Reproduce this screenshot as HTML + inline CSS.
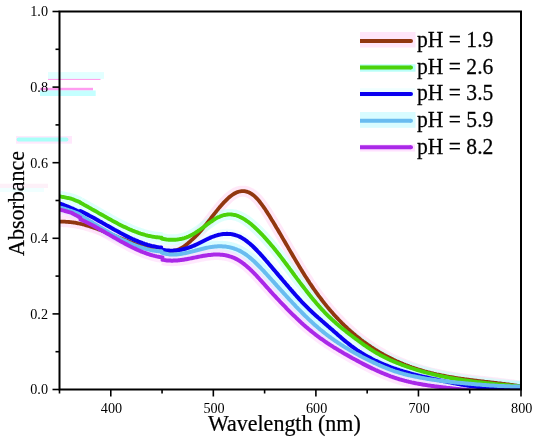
<!DOCTYPE html>
<html><head><meta charset="utf-8"><style>
html,body{margin:0;padding:0;background:#fff;}
svg{display:block;}
svg{will-change:transform;}
text{font-family:"Liberation Serif",serif;fill:#000;}
.lg{stroke:#000;stroke-width:0.25;}
.tt{stroke:#000;stroke-width:0.22;}
.tk{font-size:14.2px;}
.tt{font-size:22px;}
.lg{font-size:21.6px;}
</style></head><body>
<svg width="550" height="443" viewBox="0 0 550 443">

<rect x="48" y="72.1" width="56" height="6.8" fill="#e2ffff"/>
<rect x="48" y="78.9" width="52.5" height="1" fill="#ff98e8"/>
<rect x="40" y="87.8" width="53" height="2.7" fill="#ff9cf0"/>
<rect x="40" y="90.5" width="55.7" height="5.5" fill="#c4ffff"/>
<rect x="0" y="183.7" width="48" height="4.3" fill="#fdf0f8"/>
<rect x="0" y="188" width="44" height="4" fill="#f0ffff"/>
<rect x="16" y="136" width="56" height="7.7" fill="#ffe8fc"/>
<line x1="18.6" y1="139.5" x2="66.4" y2="139.5" stroke="#a8fff8" stroke-width="4" stroke-linecap="round"/>

<defs><clipPath id="pc"><rect x="59.5" y="0" width="461.5" height="389.5"/></clipPath></defs><g clip-path="url(#pc)">
<path d="M60.0,221.6 61.0,221.6 62.0,221.6 63.0,221.6 64.0,221.7 65.0,221.7 66.0,221.8 67.0,221.8 68.0,221.9 69.0,222.0 70.0,222.1 71.0,222.2 72.0,222.3 73.0,222.4 74.0,222.6 75.0,222.7 76.0,222.9 77.0,223.1 78.0,223.3 79.0,223.5 80.0,223.7 80.5,223.8 M80.5,223.8 81.5,224.0 82.5,224.3 83.5,224.5 84.5,224.8 85.5,225.1 86.5,225.4 87.5,225.7 88.5,226.0 89.5,226.3 90.5,226.6 91.5,226.9 92.5,227.3 93.5,227.6 94.5,227.9 95.5,228.3 96.5,228.6 97.5,229.0 98.5,229.4 99.5,229.7 100.5,230.1 101.5,230.5 102.5,230.9 103.5,231.3 104.5,231.7 105.5,232.1 106.5,232.5 107.5,232.9 108.5,233.3 109.5,233.7 110.5,234.1 111.5,234.5 112.5,234.9 113.5,235.3 114.5,235.7 115.5,236.1 116.5,236.6 117.5,237.0 118.5,237.4 119.5,237.8 120.5,238.2 121.5,238.6 122.5,239.0 123.5,239.4 124.5,239.8 125.5,240.2 126.5,240.6 127.5,241.0 128.5,241.4 129.5,241.8 130.5,242.2 131.5,242.6 132.5,242.9 133.5,243.3 134.5,243.7 135.5,244.0 136.5,244.4 137.5,244.8 138.5,245.1 139.5,245.4 140.5,245.8 141.5,246.1 142.5,246.4 143.5,246.7 144.5,247.0 145.5,247.3 146.5,247.6 147.5,247.9 148.5,248.2 149.5,248.4 150.5,248.7 151.5,248.9 152.5,249.1 153.5,249.4 154.5,249.6 155.5,249.8 156.5,249.9 157.5,250.1 158.5,250.3 159.5,250.4 160.5,250.6 161.5,250.7 162.5,250.8 163.5,250.9 164.5,251.0 165.5,251.0 166.5,251.0 167.5,251.1 168.5,251.1 169.5,251.0 170.5,251.0 171.5,250.9 172.5,250.8 173.5,250.7 174.5,250.5 175.5,250.3 176.5,250.1 177.5,249.8 178.5,249.4 179.5,249.0 180.5,248.5 181.5,248.0 182.5,247.4 183.5,246.7 184.5,246.0 185.5,245.3 186.5,244.5 187.5,243.7 188.5,242.8 189.5,242.0 190.5,241.1 191.5,240.2 192.5,239.3 193.5,238.4 194.5,237.4 195.5,236.5 196.5,235.5 197.5,234.4 198.5,233.4 199.5,232.3 200.5,231.1 201.5,230.0 202.5,228.8 203.5,227.6 204.5,226.4 205.5,225.1 206.5,223.9 207.5,222.6 208.5,221.3 209.5,220.1 210.5,218.8 211.5,217.5 212.5,216.2 213.5,214.9 214.5,213.6 215.5,212.4 216.5,211.1 217.5,209.9 218.5,208.6 219.5,207.4 220.5,206.3 221.5,205.1 222.5,204.0 223.5,202.9 224.5,201.8 225.5,200.8 226.5,199.8 227.5,198.8 228.5,197.9 229.5,197.0 230.5,196.2 231.5,195.5 232.5,194.8 233.5,194.1 234.5,193.5 235.5,193.0 236.5,192.5 237.5,192.1 238.5,191.8 239.5,191.5 240.5,191.3 241.5,191.2 242.5,191.2 243.5,191.2 244.5,191.2 245.5,191.4 246.5,191.6 247.5,191.9 248.5,192.3 249.5,192.8 250.5,193.3 251.5,193.9 252.5,194.6 253.5,195.3 254.5,196.2 255.5,197.1 256.5,198.1 257.5,199.1 258.5,200.3 259.5,201.5 260.5,202.8 261.5,204.1 262.5,205.5 263.5,206.9 264.5,208.3 265.5,209.8 266.5,211.4 267.5,212.9 268.5,214.5 269.5,216.1 270.5,217.7 271.5,219.4 272.5,221.0 273.5,222.6 274.5,224.3 275.5,226.0 276.5,227.7 277.5,229.3 278.5,231.0 279.5,232.7 280.5,234.4 281.5,236.1 282.5,237.9 283.5,239.6 284.5,241.3 285.5,243.0 286.5,244.7 287.5,246.4 288.5,248.2 289.5,249.9 290.5,251.6 291.5,253.3 292.5,255.0 293.5,256.7 294.5,258.4 295.5,260.1 296.5,261.8 297.5,263.4 298.5,265.1 299.5,266.8 300.5,268.4 301.5,270.1 302.5,271.7 303.5,273.3 304.5,274.9 305.5,276.5 306.5,278.0 307.5,279.6 308.5,281.1 309.5,282.7 310.5,284.2 311.5,285.6 312.5,287.1 313.5,288.6 314.5,290.0 315.5,291.4 316.5,292.8 317.5,294.2 318.5,295.6 319.5,296.9 320.5,298.2 321.5,299.5 322.5,300.8 323.5,302.1 324.5,303.4 325.5,304.6 326.5,305.9 327.5,307.1 328.5,308.3 329.5,309.5 330.5,310.6 331.5,311.8 332.5,312.9 333.5,314.1 334.5,315.2 335.5,316.3 336.5,317.4 337.5,318.4 338.5,319.5 339.5,320.5 340.5,321.5 341.5,322.6 342.5,323.6 343.5,324.5 344.5,325.5 345.5,326.5 346.5,327.4 347.5,328.4 348.5,329.3 349.5,330.2 350.5,331.1 351.5,332.0 352.5,332.8 353.5,333.7 354.5,334.5 355.5,335.4 356.5,336.2 357.5,337.0 358.5,337.8 359.5,338.6 360.5,339.4 361.5,340.2 362.5,340.9 363.5,341.7 364.5,342.4 365.5,343.1 366.5,343.8 367.5,344.6 368.5,345.2 369.5,345.9 370.5,346.6 371.5,347.3 372.5,347.9 373.5,348.6 374.5,349.2 375.5,349.9 376.5,350.5 377.5,351.1 378.5,351.7 379.5,352.3 380.5,352.9 381.5,353.5 382.5,354.0 383.5,354.6 384.5,355.1 385.5,355.7 386.5,356.2 387.5,356.8 388.5,357.3 389.5,357.8 390.5,358.3 391.5,358.8 392.5,359.3 393.5,359.8 394.5,360.2 395.5,360.7 396.5,361.2 397.5,361.6 398.5,362.0 399.5,362.5 400.5,362.9 401.5,363.3 402.5,363.7 403.5,364.2 404.5,364.6 405.5,365.0 406.5,365.3 407.5,365.7 408.5,366.1 409.5,366.5 410.5,366.8 411.5,367.2 412.5,367.5 413.5,367.9 414.5,368.2 415.5,368.5 416.5,368.9 417.5,369.2 418.5,369.5 419.5,369.8 420.5,370.1 421.5,370.4 422.5,370.7 423.5,371.0 424.5,371.3 425.5,371.5 426.5,371.8 427.5,372.1 428.5,372.3 429.5,372.6 430.5,372.9 431.5,373.1 432.5,373.3 433.5,373.6 434.5,373.8 435.5,374.0 436.5,374.3 437.5,374.5 438.5,374.7 439.5,374.9 440.5,375.1 441.5,375.3 442.5,375.5 443.5,375.7 444.5,375.9 445.5,376.1 446.5,376.3 447.5,376.5 448.5,376.7 449.5,376.8 450.5,377.0 451.5,377.2 452.5,377.4 453.5,377.5 454.5,377.7 455.5,377.8 456.5,378.0 457.5,378.2 458.5,378.3 459.5,378.5 460.5,378.6 461.5,378.8 462.5,378.9 463.5,379.0 464.5,379.2 465.5,379.3 466.5,379.4 467.5,379.6 468.5,379.7 469.5,379.8 470.5,380.0 471.5,380.1 472.5,380.2 473.5,380.3 474.5,380.5 475.5,380.6 476.5,380.7 477.5,380.8 478.5,381.0 479.5,381.1 480.5,381.2 481.5,381.3 482.5,381.4 483.5,381.5 484.5,381.7 485.5,381.8 486.5,381.9 487.5,382.0 488.5,382.1 489.5,382.2 490.5,382.3 491.5,382.5 492.5,382.6 493.5,382.7 494.5,382.8 495.5,382.9 496.5,383.0 497.5,383.2 498.5,383.3 499.5,383.4 500.5,383.5 501.5,383.6 502.5,383.8 503.5,383.9 504.5,384.0 505.5,384.1 506.5,384.3 507.5,384.4 508.5,384.5 509.5,384.6 510.5,384.8 511.5,384.9 512.5,385.0 513.5,385.2 514.5,385.3 515.5,385.5 516.5,385.6 517.5,385.8 518.5,385.9 519.5,386.1 520.0,386.1" fill="none" stroke="#ffd8f4" stroke-width="11" stroke-opacity="0.6" stroke-linejoin="round" stroke-linecap="butt"/>
<path d="M60.0,196.4 61.0,196.6 62.0,196.8 63.0,197.0 64.0,197.2 65.0,197.4 66.0,197.6 67.0,197.8 68.0,198.0 69.0,198.2 70.0,198.4 71.0,198.7 72.0,199.0 73.0,199.3 74.0,199.7 75.0,200.2 76.0,200.6 77.0,201.0 78.0,201.4 79.0,201.8 80.0,202.3 80.3,202.4 M80.3,202.7 81.3,203.2 82.3,203.8 83.3,204.3 84.3,204.9 85.3,205.4 86.3,206.0 87.3,206.5 88.3,207.1 89.3,207.7 90.3,208.2 91.3,208.8 92.3,209.4 93.3,209.9 94.3,210.5 95.3,211.1 96.3,211.6 97.3,212.2 98.3,212.8 99.3,213.4 100.3,213.9 101.3,214.5 102.3,215.1 103.3,215.6 104.3,216.2 105.3,216.8 106.3,217.3 107.3,217.9 108.3,218.5 109.3,219.0 110.3,219.6 111.3,220.1 112.3,220.7 113.3,221.2 114.3,221.8 115.3,222.3 116.3,222.8 117.3,223.3 118.3,223.9 119.3,224.4 120.3,224.9 121.3,225.4 122.3,225.9 123.3,226.4 124.3,226.9 125.3,227.3 126.3,227.8 127.3,228.3 128.3,228.7 129.3,229.2 130.3,229.6 131.3,230.0 132.3,230.5 133.3,230.9 134.3,231.3 135.3,231.7 136.3,232.0 137.3,232.4 138.3,232.8 139.3,233.1 140.3,233.5 141.3,233.8 142.3,234.1 143.3,234.4 144.3,234.7 145.3,235.0 146.3,235.3 147.3,235.5 148.3,235.8 149.3,236.0 150.3,236.2 151.3,236.4 152.3,236.6 153.3,236.8 154.3,236.9 155.3,237.1 156.3,237.2 157.3,237.3 158.3,237.4 159.3,237.5 160.3,237.6 161.3,237.6 161.6,237.7 M161.6,238.6 162.6,238.8 163.6,239.0 164.6,239.2 165.6,239.3 166.6,239.5 167.6,239.6 168.6,239.7 169.6,239.7 170.6,239.8 171.6,239.8 172.6,239.8 173.6,239.8 174.6,239.8 175.6,239.7 176.6,239.6 177.6,239.5 178.6,239.4 179.6,239.2 180.6,239.0 181.6,238.8 182.6,238.5 183.6,238.3 184.6,238.0 185.6,237.6 186.6,237.3 187.6,236.9 188.6,236.5 189.6,236.0 190.6,235.5 191.6,235.0 192.6,234.5 193.6,233.9 194.6,233.3 195.6,232.7 196.6,232.0 197.6,231.4 198.6,230.7 199.6,230.0 200.6,229.3 201.6,228.5 202.6,227.8 203.6,227.1 204.6,226.3 205.6,225.6 206.6,224.9 207.6,224.1 208.6,223.4 209.6,222.7 210.6,222.0 211.6,221.3 212.6,220.6 213.6,219.9 214.6,219.3 215.6,218.7 216.6,218.1 217.6,217.6 218.6,217.1 219.6,216.7 220.6,216.2 221.6,215.9 222.6,215.5 223.6,215.2 224.6,215.0 225.6,214.8 226.6,214.6 227.6,214.5 228.6,214.4 229.6,214.4 230.6,214.4 231.6,214.5 232.6,214.6 233.6,214.8 234.6,215.0 235.6,215.2 236.6,215.5 237.6,215.9 238.6,216.3 239.6,216.7 240.6,217.2 241.6,217.7 242.6,218.2 243.6,218.8 244.6,219.4 245.6,220.1 246.6,220.8 247.6,221.5 248.6,222.2 249.6,223.0 250.6,223.8 251.6,224.6 252.6,225.5 253.6,226.4 254.6,227.3 255.6,228.2 256.6,229.1 257.6,230.1 258.6,231.1 259.6,232.1 260.6,233.1 261.6,234.2 262.6,235.2 263.6,236.3 264.6,237.4 265.6,238.5 266.6,239.6 267.6,240.7 268.6,241.9 269.6,243.0 270.6,244.2 271.6,245.4 272.6,246.6 273.6,247.8 274.6,249.0 275.6,250.3 276.6,251.5 277.6,252.8 278.6,254.0 279.6,255.3 280.6,256.6 281.6,257.9 282.6,259.2 283.6,260.5 284.6,261.9 285.6,263.2 286.6,264.5 287.6,265.9 288.6,267.2 289.6,268.6 290.6,269.9 291.6,271.3 292.6,272.6 293.6,274.0 294.6,275.4 295.6,276.7 296.6,278.1 297.6,279.4 298.6,280.7 299.6,282.1 300.6,283.4 301.6,284.7 302.6,286.0 303.6,287.3 304.6,288.6 305.6,289.9 306.6,291.2 307.6,292.5 308.6,293.7 309.6,295.0 310.6,296.2 311.6,297.5 312.6,298.7 313.6,299.9 314.6,301.1 315.6,302.3 316.6,303.5 317.6,304.6 318.6,305.8 319.6,306.9 320.6,308.0 321.6,309.1 322.6,310.2 323.6,311.2 324.6,312.3 325.6,313.3 326.6,314.3 327.6,315.3 328.6,316.3 329.6,317.3 330.6,318.2 331.6,319.2 332.6,320.1 333.6,321.0 334.6,321.9 335.6,322.8 336.6,323.7 337.6,324.5 338.6,325.4 339.6,326.2 340.6,327.1 341.6,327.9 342.6,328.7 343.6,329.5 344.6,330.3 345.6,331.1 346.6,331.9 347.6,332.7 348.6,333.4 349.6,334.2 350.6,335.0 351.6,335.7 352.6,336.5 353.6,337.3 354.6,338.0 355.6,338.8 356.6,339.5 357.6,340.2 358.6,341.0 359.6,341.7 360.6,342.4 361.6,343.1 362.6,343.9 363.6,344.6 364.6,345.3 365.6,345.9 366.6,346.6 367.6,347.3 368.6,348.0 369.6,348.6 370.6,349.3 371.6,349.9 372.6,350.6 373.6,351.2 374.6,351.8 375.6,352.4 376.6,353.0 377.6,353.6 378.6,354.1 379.6,354.7 380.6,355.3 381.6,355.8 382.6,356.3 383.6,356.8 384.6,357.3 385.6,357.8 386.6,358.3 387.6,358.8 388.6,359.3 389.6,359.7 390.6,360.2 391.6,360.6 392.6,361.1 393.6,361.5 394.6,361.9 395.6,362.3 396.6,362.8 397.6,363.2 398.6,363.5 399.6,363.9 400.6,364.3 401.6,364.7 402.6,365.1 403.6,365.4 404.6,365.8 405.6,366.2 406.6,366.5 407.6,366.9 408.6,367.2 409.6,367.5 410.6,367.9 411.6,368.2 412.6,368.5 413.6,368.8 414.6,369.2 415.6,369.5 416.6,369.8 417.6,370.1 418.6,370.4 419.6,370.7 420.6,371.0 421.6,371.3 422.6,371.5 423.6,371.8 424.6,372.1 425.6,372.4 426.6,372.6 427.6,372.9 428.6,373.1 429.6,373.4 430.6,373.7 431.6,373.9 432.6,374.1 433.6,374.4 434.6,374.6 435.6,374.9 436.6,375.1 437.6,375.3 438.6,375.5 439.6,375.8 440.6,376.0 441.6,376.2 442.6,376.4 443.6,376.6 444.6,376.8 445.6,377.0 446.6,377.2 447.6,377.4 448.6,377.6 449.6,377.8 450.6,378.0 451.6,378.2 452.6,378.3 453.6,378.5 454.6,378.7 455.6,378.9 456.6,379.0 457.6,379.2 458.6,379.4 459.6,379.5 460.6,379.7 461.6,379.8 462.6,380.0 463.6,380.1 464.6,380.3 465.6,380.4 466.6,380.6 467.6,380.7 468.6,380.9 469.6,381.0 470.6,381.2 471.6,381.3 472.6,381.4 473.6,381.6 474.6,381.7 475.6,381.8 476.6,381.9 477.6,382.1 478.6,382.2 479.6,382.3 480.6,382.4 481.6,382.5 482.6,382.7 483.6,382.8 484.6,382.9 485.6,383.0 486.6,383.1 487.6,383.2 488.6,383.3 489.6,383.4 490.6,383.5 491.6,383.7 492.6,383.8 493.6,383.9 494.6,384.0 495.6,384.1 496.6,384.2 497.6,384.3 498.6,384.4 499.6,384.5 500.6,384.6 501.6,384.7 502.6,384.7 503.6,384.8 504.6,384.9 505.6,385.0 506.6,385.1 507.6,385.2 508.6,385.3 509.6,385.4 510.6,385.5 511.6,385.6 512.6,385.7 513.6,385.8 514.6,385.9 515.6,386.0 516.6,386.0 517.6,386.1 518.6,386.2 519.6,386.3 520.0,386.3" fill="none" stroke="#c8fff8" stroke-width="11" stroke-opacity="0.6" stroke-linejoin="round" stroke-linecap="butt"/>
<path d="M60.0,203.6 61.0,204.0 62.0,204.3 63.0,204.7 64.0,205.1 65.0,205.5 66.0,205.9 67.0,206.3 68.0,206.7 69.0,207.1 70.0,207.5 71.0,208.0 72.0,208.4 73.0,208.9 74.0,209.4 75.0,209.8 76.0,210.3 77.0,210.8 78.0,211.2 79.0,211.7 79.7,212.0 M80.5,211.1 81.5,211.5 82.5,212.0 83.5,212.5 84.5,213.0 85.5,213.6 86.5,214.1 87.5,214.6 88.5,215.1 89.5,215.7 90.5,216.2 91.5,216.7 92.5,217.3 93.5,217.8 94.5,218.4 95.5,218.9 96.5,219.5 97.5,220.1 98.5,220.6 99.5,221.2 100.5,221.7 101.5,222.3 102.5,222.9 103.5,223.5 104.5,224.0 105.5,224.6 106.5,225.2 107.5,225.7 108.5,226.3 109.5,226.9 110.5,227.4 111.5,228.0 112.5,228.6 113.5,229.1 114.5,229.7 115.5,230.2 116.5,230.8 117.5,231.3 118.5,231.9 119.5,232.4 120.5,233.0 121.5,233.5 122.5,234.0 123.5,234.5 124.5,235.1 125.5,235.6 126.5,236.1 127.5,236.6 128.5,237.1 129.5,237.6 130.5,238.0 131.5,238.5 132.5,239.0 133.5,239.4 134.5,239.9 135.5,240.3 136.5,240.7 137.5,241.1 138.5,241.6 139.5,242.0 140.5,242.3 141.5,242.7 142.5,243.1 143.5,243.4 144.5,243.8 145.5,244.1 146.5,244.4 147.5,244.8 148.5,245.1 149.5,245.3 150.5,245.6 151.5,245.9 152.5,246.1 153.5,246.3 154.5,246.5 155.5,246.7 156.5,246.9 157.5,247.1 158.5,247.3 159.5,247.4 160.5,247.5 161.2,247.6 M162.0,249.7 163.0,249.9 164.0,250.1 165.0,250.2 166.0,250.4 167.0,250.5 168.0,250.6 169.0,250.6 170.0,250.7 171.0,250.7 172.0,250.7 173.0,250.7 174.0,250.6 175.0,250.5 176.0,250.5 177.0,250.4 178.0,250.2 179.0,250.1 180.0,249.9 181.0,249.7 182.0,249.5 183.0,249.3 184.0,249.0 185.0,248.8 186.0,248.5 187.0,248.2 188.0,247.9 189.0,247.5 190.0,247.2 191.0,246.8 192.0,246.4 193.0,246.0 194.0,245.6 195.0,245.1 196.0,244.7 197.0,244.2 198.0,243.7 199.0,243.2 200.0,242.7 201.0,242.2 202.0,241.7 203.0,241.2 204.0,240.7 205.0,240.2 206.0,239.7 207.0,239.2 208.0,238.8 209.0,238.3 210.0,237.9 211.0,237.4 212.0,237.0 213.0,236.6 214.0,236.3 215.0,235.9 216.0,235.6 217.0,235.3 218.0,235.0 219.0,234.8 220.0,234.6 221.0,234.4 222.0,234.2 223.0,234.1 224.0,234.0 225.0,233.9 226.0,233.9 227.0,233.8 228.0,233.9 229.0,233.9 230.0,234.0 231.0,234.1 232.0,234.3 233.0,234.5 234.0,234.7 235.0,235.0 236.0,235.3 237.0,235.6 238.0,236.0 239.0,236.4 240.0,236.9 241.0,237.4 242.0,238.0 243.0,238.6 244.0,239.2 245.0,239.9 246.0,240.6 247.0,241.4 248.0,242.2 249.0,243.0 250.0,243.8 251.0,244.7 252.0,245.6 253.0,246.5 254.0,247.5 255.0,248.5 256.0,249.5 257.0,250.5 258.0,251.6 259.0,252.6 260.0,253.7 261.0,254.8 262.0,255.9 263.0,257.0 264.0,258.2 265.0,259.3 266.0,260.5 267.0,261.6 268.0,262.8 269.0,264.0 270.0,265.2 271.0,266.3 272.0,267.5 273.0,268.7 274.0,269.9 275.0,271.0 276.0,272.2 277.0,273.4 278.0,274.6 279.0,275.8 280.0,276.9 281.0,278.1 282.0,279.3 283.0,280.5 284.0,281.6 285.0,282.8 286.0,284.0 287.0,285.1 288.0,286.3 289.0,287.5 290.0,288.6 291.0,289.8 292.0,290.9 293.0,292.1 294.0,293.2 295.0,294.4 296.0,295.5 297.0,296.6 298.0,297.7 299.0,298.8 300.0,299.9 301.0,301.0 302.0,302.1 303.0,303.1 304.0,304.2 305.0,305.2 306.0,306.2 307.0,307.2 308.0,308.2 309.0,309.2 310.0,310.1 311.0,311.1 312.0,312.0 313.0,312.9 314.0,313.8 315.0,314.8 316.0,315.7 317.0,316.6 318.0,317.5 319.0,318.3 320.0,319.2 321.0,320.1 322.0,321.0 323.0,321.8 324.0,322.7 325.0,323.6 326.0,324.4 327.0,325.3 328.0,326.2 329.0,327.0 330.0,327.9 331.0,328.8 332.0,329.6 333.0,330.5 334.0,331.4 335.0,332.3 336.0,333.1 337.0,334.0 338.0,334.9 339.0,335.8 340.0,336.6 341.0,337.5 342.0,338.4 343.0,339.2 344.0,340.1 345.0,340.9 346.0,341.7 347.0,342.5 348.0,343.3 349.0,344.1 350.0,344.9 351.0,345.7 352.0,346.5 353.0,347.2 354.0,347.9 355.0,348.7 356.0,349.4 357.0,350.1 358.0,350.7 359.0,351.4 360.0,352.0 361.0,352.7 362.0,353.3 363.0,353.9 364.0,354.5 365.0,355.1 366.0,355.7 367.0,356.3 368.0,356.8 369.0,357.4 370.0,357.9 371.0,358.4 372.0,359.0 373.0,359.5 374.0,360.0 375.0,360.5 376.0,360.9 377.0,361.4 378.0,361.9 379.0,362.3 380.0,362.8 381.0,363.2 382.0,363.7 383.0,364.1 384.0,364.5 385.0,364.9 386.0,365.3 387.0,365.7 388.0,366.1 389.0,366.5 390.0,366.9 391.0,367.3 392.0,367.6 393.0,368.0 394.0,368.4 395.0,368.7 396.0,369.0 397.0,369.4 398.0,369.7 399.0,370.0 400.0,370.4 401.0,370.7 402.0,371.0 403.0,371.3 404.0,371.6 405.0,371.9 406.0,372.2 407.0,372.5 408.0,372.8 409.0,373.0 410.0,373.3 411.0,373.6 412.0,373.9 413.0,374.1 414.0,374.4 415.0,374.6 416.0,374.9 417.0,375.1 418.0,375.4 419.0,375.6 420.0,375.9 421.0,376.1 422.0,376.4 423.0,376.6 424.0,376.8 425.0,377.1 426.0,377.3 427.0,377.5 428.0,377.7 429.0,378.0 430.0,378.2 431.0,378.4 432.0,378.6 433.0,378.8 434.0,379.1 435.0,379.3 436.0,379.5 437.0,379.7 438.0,379.9 439.0,380.1 440.0,380.3 441.0,380.6 442.0,380.8 443.0,381.0 444.0,381.2 445.0,381.4 446.0,381.6 447.0,381.8 448.0,382.0 449.0,382.2 450.0,382.4 451.0,382.6 452.0,382.8 453.0,383.0 454.0,383.2 455.0,383.4 456.0,383.6 457.0,383.8 458.0,383.9 459.0,384.1 460.0,384.3 461.0,384.5 462.0,384.7 463.0,384.8 464.0,385.0 465.0,385.2 466.0,385.3 467.0,385.5 468.0,385.7 469.0,385.8 470.0,386.0 471.0,386.1 472.0,386.3 473.0,386.4 474.0,386.6 475.0,386.7 476.0,386.8 477.0,387.0 478.0,387.1 479.0,387.2 480.0,387.4 481.0,387.5 482.0,387.6 483.0,387.7 484.0,387.8 485.0,387.9 486.0,388.0 487.0,388.1 488.0,388.2 489.0,388.3 490.0,388.4 491.0,388.5 492.0,388.6 493.0,388.7 494.0,388.7 495.0,388.8 496.0,388.9 497.0,388.9 498.0,389.0 499.0,389.0 500.0,389.1 501.0,389.1 502.0,389.2 503.0,389.2 504.0,389.2 505.0,389.2 506.0,389.3 507.0,389.3 508.0,389.3 509.0,389.3 510.0,389.3 511.0,389.3 512.0,389.3 513.0,389.2 514.0,389.2 515.0,389.2 516.0,389.2 517.0,389.1 518.0,389.1 519.0,389.0 520.0,389.0" fill="none" stroke="#e8fcff" stroke-width="10" stroke-opacity="0.6" stroke-linejoin="round" stroke-linecap="butt"/>
<path d="M60.0,207.6 61.0,207.9 62.0,208.1 63.0,208.4 64.0,208.7 65.0,209.0 66.0,209.3 67.0,209.6 68.0,209.9 69.0,210.3 70.0,210.6 71.0,210.9 72.0,211.3 73.0,211.7 74.0,212.0 75.0,212.4 76.0,212.8 77.0,213.2 78.0,213.6 79.0,214.1 80.0,214.5 M80.0,215.1 81.0,215.7 82.0,216.3 83.0,216.9 84.0,217.5 85.0,218.1 86.0,218.7 87.0,219.3 88.0,219.9 89.0,220.5 90.0,221.1 91.0,221.7 92.0,222.3 93.0,223.0 94.0,223.6 95.0,224.2 96.0,224.8 97.0,225.4 98.0,226.0 99.0,226.6 100.0,227.2 101.0,227.8 102.0,228.4 103.0,229.0 104.0,229.6 105.0,230.1 106.0,230.7 107.0,231.3 108.0,231.9 109.0,232.5 110.0,233.0 111.0,233.6 112.0,234.2 113.0,234.7 114.0,235.3 115.0,235.8 116.0,236.4 117.0,236.9 118.0,237.4 119.0,237.9 120.0,238.5 121.0,239.0 122.0,239.5 123.0,240.0 124.0,240.4 125.0,240.9 126.0,241.4 127.0,241.9 128.0,242.3 129.0,242.8 130.0,243.2 131.0,243.6 132.0,244.1 133.0,244.5 134.0,244.9 135.0,245.3 136.0,245.7 137.0,246.0 138.0,246.4 139.0,246.7 140.0,247.1 141.0,247.4 142.0,247.7 143.0,248.0 144.0,248.3 145.0,248.6 146.0,248.9 147.0,249.2 148.0,249.4 149.0,249.6 150.0,249.9 151.0,250.1 152.0,250.3 153.0,250.4 154.0,250.6 155.0,250.7 156.0,250.9 157.0,251.0 158.0,251.1 159.0,251.2 160.0,251.3 161.0,251.3 161.6,251.4 M161.8,252.7 162.8,253.0 163.8,253.3 164.8,253.5 165.8,253.8 166.8,254.0 167.8,254.1 168.8,254.3 169.8,254.4 170.8,254.4 171.8,254.5 172.8,254.5 173.8,254.5 174.8,254.5 175.8,254.4 176.8,254.4 177.8,254.3 178.8,254.2 179.8,254.1 180.8,253.9 181.8,253.8 182.8,253.6 183.8,253.4 184.8,253.2 185.8,253.0 186.8,252.8 187.8,252.6 188.8,252.3 189.8,252.1 190.8,251.8 191.8,251.6 192.8,251.3 193.8,251.1 194.8,250.8 195.8,250.5 196.8,250.3 197.8,250.0 198.8,249.7 199.8,249.5 200.8,249.2 201.8,249.0 202.8,248.7 203.8,248.5 204.8,248.2 205.8,248.0 206.8,247.8 207.8,247.6 208.8,247.4 209.8,247.2 210.8,247.1 211.8,246.9 212.8,246.8 213.8,246.7 214.8,246.6 215.8,246.5 216.8,246.4 217.8,246.3 218.8,246.3 219.8,246.3 220.8,246.3 221.8,246.3 222.8,246.4 223.8,246.4 224.8,246.5 225.8,246.6 226.8,246.8 227.8,246.9 228.8,247.1 229.8,247.3 230.8,247.6 231.8,247.8 232.8,248.1 233.8,248.4 234.8,248.8 235.8,249.1 236.8,249.5 237.8,250.0 238.8,250.4 239.8,250.9 240.8,251.4 241.8,252.0 242.8,252.6 243.8,253.2 244.8,253.8 245.8,254.5 246.8,255.2 247.8,256.0 248.8,256.8 249.8,257.6 250.8,258.4 251.8,259.3 252.8,260.2 253.8,261.1 254.8,262.0 255.8,263.0 256.8,264.0 257.8,265.0 258.8,266.0 259.8,267.0 260.8,268.0 261.8,269.1 262.8,270.1 263.8,271.2 264.8,272.3 265.8,273.4 266.8,274.5 267.8,275.6 268.8,276.7 269.8,277.8 270.8,278.9 271.8,280.0 272.8,281.1 273.8,282.2 274.8,283.3 275.8,284.4 276.8,285.6 277.8,286.7 278.8,287.8 279.8,288.9 280.8,290.0 281.8,291.1 282.8,292.2 283.8,293.3 284.8,294.4 285.8,295.5 286.8,296.6 287.8,297.7 288.8,298.8 289.8,299.9 290.8,300.9 291.8,302.0 292.8,303.1 293.8,304.1 294.8,305.2 295.8,306.3 296.8,307.3 297.8,308.4 298.8,309.4 299.8,310.4 300.8,311.4 301.8,312.5 302.8,313.5 303.8,314.5 304.8,315.5 305.8,316.4 306.8,317.4 307.8,318.4 308.8,319.3 309.8,320.3 310.8,321.2 311.8,322.1 312.8,323.1 313.8,324.0 314.8,324.9 315.8,325.7 316.8,326.6 317.8,327.5 318.8,328.3 319.8,329.2 320.8,330.0 321.8,330.8 322.8,331.6 323.8,332.4 324.8,333.2 325.8,334.0 326.8,334.8 327.8,335.5 328.8,336.3 329.8,337.0 330.8,337.7 331.8,338.5 332.8,339.2 333.8,339.9 334.8,340.6 335.8,341.3 336.8,341.9 337.8,342.6 338.8,343.3 339.8,343.9 340.8,344.6 341.8,345.2 342.8,345.8 343.8,346.5 344.8,347.1 345.8,347.7 346.8,348.3 347.8,348.9 348.8,349.5 349.8,350.1 350.8,350.7 351.8,351.2 352.8,351.8 353.8,352.4 354.8,352.9 355.8,353.5 356.8,354.0 357.8,354.5 358.8,355.1 359.8,355.6 360.8,356.1 361.8,356.7 362.8,357.2 363.8,357.7 364.8,358.2 365.8,358.7 366.8,359.2 367.8,359.7 368.8,360.2 369.8,360.7 370.8,361.2 371.8,361.7 372.8,362.1 373.8,362.6 374.8,363.1 375.8,363.5 376.8,364.0 377.8,364.5 378.8,364.9 379.8,365.4 380.8,365.8 381.8,366.2 382.8,366.7 383.8,367.1 384.8,367.5 385.8,367.9 386.8,368.3 387.8,368.7 388.8,369.1 389.8,369.5 390.8,369.9 391.8,370.2 392.8,370.6 393.8,370.9 394.8,371.3 395.8,371.6 396.8,371.9 397.8,372.2 398.8,372.5 399.8,372.8 400.8,373.1 401.8,373.4 402.8,373.7 403.8,374.0 404.8,374.2 405.8,374.5 406.8,374.7 407.8,375.0 408.8,375.2 409.8,375.4 410.8,375.7 411.8,375.9 412.8,376.1 413.8,376.3 414.8,376.5 415.8,376.7 416.8,376.9 417.8,377.1 418.8,377.3 419.8,377.5 420.8,377.7 421.8,377.9 422.8,378.1 423.8,378.2 424.8,378.4 425.8,378.6 426.8,378.8 427.8,378.9 428.8,379.1 429.8,379.2 430.8,379.4 431.8,379.5 432.8,379.7 433.8,379.8 434.8,380.0 435.8,380.1 436.8,380.3 437.8,380.4 438.8,380.5 439.8,380.7 440.8,380.8 441.8,380.9 442.8,381.0 443.8,381.2 444.8,381.3 445.8,381.4 446.8,381.5 447.8,381.6 448.8,381.7 449.8,381.8 450.8,381.9 451.8,382.0 452.8,382.2 453.8,382.3 454.8,382.4 455.8,382.5 456.8,382.6 457.8,382.7 458.8,382.8 459.8,382.8 460.8,382.9 461.8,383.0 462.8,383.1 463.8,383.2 464.8,383.3 465.8,383.4 466.8,383.5 467.8,383.6 468.8,383.7 469.8,383.8 470.8,383.8 471.8,383.9 472.8,384.0 473.8,384.1 474.8,384.2 475.8,384.3 476.8,384.4 477.8,384.4 478.8,384.5 479.8,384.6 480.8,384.7 481.8,384.8 482.8,384.9 483.8,384.9 484.8,385.0 485.8,385.1 486.8,385.2 487.8,385.2 488.8,385.3 489.8,385.4 490.8,385.4 491.8,385.5 492.8,385.6 493.8,385.6 494.8,385.7 495.8,385.8 496.8,385.8 497.8,385.9 498.8,385.9 499.8,386.0 500.8,386.0 501.8,386.1 502.8,386.1 503.8,386.1 504.8,386.2 505.8,386.2 506.8,386.3 507.8,386.3 508.8,386.3 509.8,386.3 510.8,386.4 511.8,386.4 512.8,386.4 513.8,386.4 514.8,386.4 515.8,386.4 516.8,386.4 517.8,386.4 518.8,386.4 519.8,386.4 520.0,386.4" fill="none" stroke="#c0fcff" stroke-width="11" stroke-opacity="0.6" stroke-linejoin="round" stroke-linecap="butt"/>
<path d="M60.0,209.6 61.0,209.9 62.0,210.2 63.0,210.4 64.0,210.7 65.0,211.0 66.0,211.3 67.0,211.5 68.0,211.8 69.0,212.1 70.0,212.4 71.0,212.7 72.0,213.1 73.0,213.6 74.0,214.2 75.0,214.7 76.0,215.3 77.0,215.8 78.0,216.4 79.0,216.9 80.0,217.5 80.2,217.6 M80.5,219.4 81.5,219.8 82.5,220.3 83.5,220.8 84.5,221.2 85.5,221.7 86.5,222.2 87.5,222.7 88.5,223.2 89.5,223.7 90.5,224.3 91.5,224.8 92.5,225.3 93.5,225.8 94.5,226.4 95.5,226.9 96.5,227.5 97.5,228.0 98.5,228.6 99.5,229.2 100.5,229.7 101.5,230.3 102.5,230.9 103.5,231.4 104.5,232.0 105.5,232.6 106.5,233.2 107.5,233.7 108.5,234.3 109.5,234.9 110.5,235.5 111.5,236.0 112.5,236.6 113.5,237.2 114.5,237.8 115.5,238.3 116.5,238.9 117.5,239.5 118.5,240.0 119.5,240.6 120.5,241.2 121.5,241.7 122.5,242.3 123.5,242.8 124.5,243.4 125.5,243.9 126.5,244.4 127.5,244.9 128.5,245.5 129.5,246.0 130.5,246.5 131.5,247.0 132.5,247.5 133.5,248.0 134.5,248.4 135.5,248.9 136.5,249.4 137.5,249.8 138.5,250.3 139.5,250.7 140.5,251.1 141.5,251.6 142.5,252.0 143.5,252.4 144.5,252.7 145.5,253.1 146.5,253.5 147.5,253.8 148.5,254.1 149.5,254.5 150.5,254.8 151.5,255.1 152.5,255.4 153.5,255.6 154.5,255.9 155.5,256.1 156.5,256.4 157.5,256.6 158.5,256.8 159.5,256.9 160.5,257.1 161.5,257.3 162.5,257.4 M162.5,259.7 163.5,259.9 164.5,260.1 165.5,260.2 166.5,260.4 167.5,260.5 168.5,260.5 169.5,260.6 170.5,260.6 171.5,260.7 172.5,260.7 173.5,260.6 174.5,260.6 175.5,260.6 176.5,260.5 177.5,260.4 178.5,260.3 179.5,260.2 180.5,260.1 181.5,260.0 182.5,259.8 183.5,259.7 184.5,259.5 185.5,259.3 186.5,259.2 187.5,259.0 188.5,258.8 189.5,258.6 190.5,258.4 191.5,258.2 192.5,258.0 193.5,257.8 194.5,257.6 195.5,257.4 196.5,257.2 197.5,257.0 198.5,256.8 199.5,256.6 200.5,256.4 201.5,256.2 202.5,256.0 203.5,255.8 204.5,255.7 205.5,255.5 206.5,255.4 207.5,255.2 208.5,255.1 209.5,255.0 210.5,254.9 211.5,254.8 212.5,254.7 213.5,254.6 214.5,254.6 215.5,254.5 216.5,254.5 217.5,254.5 218.5,254.6 219.5,254.6 220.5,254.7 221.5,254.7 222.5,254.8 223.5,255.0 224.5,255.1 225.5,255.3 226.5,255.5 227.5,255.7 228.5,256.0 229.5,256.3 230.5,256.6 231.5,256.9 232.5,257.3 233.5,257.7 234.5,258.1 235.5,258.6 236.5,259.1 237.5,259.6 238.5,260.2 239.5,260.8 240.5,261.5 241.5,262.1 242.5,262.9 243.5,263.6 244.5,264.4 245.5,265.2 246.5,266.0 247.5,266.9 248.5,267.8 249.5,268.7 250.5,269.7 251.5,270.6 252.5,271.6 253.5,272.6 254.5,273.6 255.5,274.7 256.5,275.7 257.5,276.8 258.5,277.9 259.5,279.0 260.5,280.1 261.5,281.2 262.5,282.3 263.5,283.4 264.5,284.5 265.5,285.7 266.5,286.8 267.5,287.9 268.5,289.0 269.5,290.1 270.5,291.3 271.5,292.4 272.5,293.5 273.5,294.6 274.5,295.6 275.5,296.7 276.5,297.8 277.5,298.9 278.5,299.9 279.5,301.0 280.5,302.1 281.5,303.1 282.5,304.1 283.5,305.2 284.5,306.2 285.5,307.2 286.5,308.3 287.5,309.3 288.5,310.3 289.5,311.3 290.5,312.3 291.5,313.3 292.5,314.3 293.5,315.3 294.5,316.2 295.5,317.2 296.5,318.2 297.5,319.1 298.5,320.1 299.5,321.0 300.5,321.9 301.5,322.9 302.5,323.8 303.5,324.7 304.5,325.5 305.5,326.4 306.5,327.3 307.5,328.1 308.5,329.0 309.5,329.8 310.5,330.6 311.5,331.4 312.5,332.2 313.5,333.0 314.5,333.8 315.5,334.6 316.5,335.3 317.5,336.1 318.5,336.8 319.5,337.6 320.5,338.3 321.5,339.0 322.5,339.7 323.5,340.4 324.5,341.1 325.5,341.8 326.5,342.5 327.5,343.2 328.5,343.8 329.5,344.5 330.5,345.1 331.5,345.8 332.5,346.4 333.5,347.1 334.5,347.7 335.5,348.3 336.5,348.9 337.5,349.5 338.5,350.1 339.5,350.7 340.5,351.3 341.5,351.9 342.5,352.5 343.5,353.1 344.5,353.7 345.5,354.2 346.5,354.8 347.5,355.4 348.5,355.9 349.5,356.5 350.5,357.1 351.5,357.6 352.5,358.2 353.5,358.7 354.5,359.3 355.5,359.8 356.5,360.4 357.5,360.9 358.5,361.4 359.5,362.0 360.5,362.5 361.5,363.0 362.5,363.6 363.5,364.1 364.5,364.6 365.5,365.1 366.5,365.6 367.5,366.1 368.5,366.6 369.5,367.1 370.5,367.6 371.5,368.1 372.5,368.6 373.5,369.0 374.5,369.5 375.5,370.0 376.5,370.4 377.5,370.9 378.5,371.3 379.5,371.8 380.5,372.2 381.5,372.7 382.5,373.1 383.5,373.5 384.5,373.9 385.5,374.3 386.5,374.7 387.5,375.1 388.5,375.5 389.5,375.9 390.5,376.3 391.5,376.6 392.5,377.0 393.5,377.3 394.5,377.7 395.5,378.0 396.5,378.3 397.5,378.6 398.5,379.0 399.5,379.3 400.5,379.6 401.5,379.8 402.5,380.1 403.5,380.4 404.5,380.7 405.5,380.9 406.5,381.2 407.5,381.4 408.5,381.7 409.5,381.9 410.5,382.1 411.5,382.4 412.5,382.6 413.5,382.8 414.5,383.0 415.5,383.2 416.5,383.4 417.5,383.6 418.5,383.8 419.5,384.0 420.5,384.1 421.5,384.3 422.5,384.5 423.5,384.7 424.5,384.8 425.5,385.0 426.5,385.1 427.5,385.3 428.5,385.4 429.5,385.6 430.5,385.7 431.5,385.9 432.5,386.0 433.5,386.1 434.5,386.3 435.5,386.4 436.5,386.5 437.5,386.7 438.5,386.8 439.5,386.9 440.5,387.0 441.5,387.2 442.5,387.3 443.5,387.4 444.5,387.5 445.5,387.6 446.5,387.8 447.5,387.9 448.5,388.0 449.5,388.1 450.5,388.2 451.5,388.3 452.5,388.4 453.5,388.6 454.5,388.7 455.5,388.8 456.5,388.9 457.5,389.0 458.5,389.1 459.5,389.2 460.5,389.3 461.5,389.4 462.5,389.5 463.5,389.6 464.5,389.7 465.5,389.8 466.5,389.9 467.5,390.0 468.5,390.1 469.5,390.2 470.5,390.3 471.5,390.4 472.5,390.5 473.5,390.6 474.5,390.6 475.5,390.7 476.5,390.8 477.5,390.9 478.5,391.0 479.5,391.0 480.5,391.1 481.5,391.2 482.5,391.3 483.5,391.3 484.5,391.4 485.5,391.4 486.5,391.5 487.5,391.6 488.5,391.6 489.5,391.7 490.5,391.7 491.5,391.8 492.5,391.8 493.5,391.9 494.5,391.9 495.5,391.9 496.5,392.0 497.5,392.0 498.5,392.0 499.5,392.1 500.5,392.1 501.5,392.1 502.5,392.1 503.5,392.2 504.5,392.2 505.5,392.2 506.5,392.2 507.5,392.2 508.5,392.2 509.5,392.2 510.5,392.2 511.5,392.2 512.5,392.2 513.5,392.1 514.5,392.1 515.5,392.1 516.5,392.1 517.5,392.1 518.5,392.0 519.5,392.0 520.0,392.0" fill="none" stroke="#ffd8fc" stroke-width="11" stroke-opacity="0.6" stroke-linejoin="round" stroke-linecap="butt"/>
<path d="M60.0,221.6 61.0,221.6 62.0,221.6 63.0,221.6 64.0,221.7 65.0,221.7 66.0,221.8 67.0,221.8 68.0,221.9 69.0,222.0 70.0,222.1 71.0,222.2 72.0,222.3 73.0,222.4 74.0,222.6 75.0,222.7 76.0,222.9 77.0,223.1 78.0,223.3 79.0,223.5 80.0,223.7 80.5,223.8 M80.5,223.8 81.5,224.0 82.5,224.3 83.5,224.5 84.5,224.8 85.5,225.1 86.5,225.4 87.5,225.7 88.5,226.0 89.5,226.3 90.5,226.6 91.5,226.9 92.5,227.3 93.5,227.6 94.5,227.9 95.5,228.3 96.5,228.6 97.5,229.0 98.5,229.4 99.5,229.7 100.5,230.1 101.5,230.5 102.5,230.9 103.5,231.3 104.5,231.7 105.5,232.1 106.5,232.5 107.5,232.9 108.5,233.3 109.5,233.7 110.5,234.1 111.5,234.5 112.5,234.9 113.5,235.3 114.5,235.7 115.5,236.1 116.5,236.6 117.5,237.0 118.5,237.4 119.5,237.8 120.5,238.2 121.5,238.6 122.5,239.0 123.5,239.4 124.5,239.8 125.5,240.2 126.5,240.6 127.5,241.0 128.5,241.4 129.5,241.8 130.5,242.2 131.5,242.6 132.5,242.9 133.5,243.3 134.5,243.7 135.5,244.0 136.5,244.4 137.5,244.8 138.5,245.1 139.5,245.4 140.5,245.8 141.5,246.1 142.5,246.4 143.5,246.7 144.5,247.0 145.5,247.3 146.5,247.6 147.5,247.9 148.5,248.2 149.5,248.4 150.5,248.7 151.5,248.9 152.5,249.1 153.5,249.4 154.5,249.6 155.5,249.8 156.5,249.9 157.5,250.1 158.5,250.3 159.5,250.4 160.5,250.6 161.5,250.7 162.5,250.8 163.5,250.9 164.5,251.0 165.5,251.0 166.5,251.0 167.5,251.1 168.5,251.1 169.5,251.0 170.5,251.0 171.5,250.9 172.5,250.8 173.5,250.7 174.5,250.5 175.5,250.3 176.5,250.1 177.5,249.8 178.5,249.4 179.5,249.0 180.5,248.5 181.5,248.0 182.5,247.4 183.5,246.7 184.5,246.0 185.5,245.3 186.5,244.5 187.5,243.7 188.5,242.8 189.5,242.0 190.5,241.1 191.5,240.2 192.5,239.3 193.5,238.4 194.5,237.4 195.5,236.5 196.5,235.5 197.5,234.4 198.5,233.4 199.5,232.3 200.5,231.1 201.5,230.0 202.5,228.8 203.5,227.6 204.5,226.4 205.5,225.1 206.5,223.9 207.5,222.6 208.5,221.3 209.5,220.1 210.5,218.8 211.5,217.5 212.5,216.2 213.5,214.9 214.5,213.6 215.5,212.4 216.5,211.1 217.5,209.9 218.5,208.6 219.5,207.4 220.5,206.3 221.5,205.1 222.5,204.0 223.5,202.9 224.5,201.8 225.5,200.8 226.5,199.8 227.5,198.8 228.5,197.9 229.5,197.0 230.5,196.2 231.5,195.5 232.5,194.8 233.5,194.1 234.5,193.5 235.5,193.0 236.5,192.5 237.5,192.1 238.5,191.8 239.5,191.5 240.5,191.3 241.5,191.2 242.5,191.2 243.5,191.2 244.5,191.2 245.5,191.4 246.5,191.6 247.5,191.9 248.5,192.3 249.5,192.8 250.5,193.3 251.5,193.9 252.5,194.6 253.5,195.3 254.5,196.2 255.5,197.1 256.5,198.1 257.5,199.1 258.5,200.3 259.5,201.5 260.5,202.8 261.5,204.1 262.5,205.5 263.5,206.9 264.5,208.3 265.5,209.8 266.5,211.4 267.5,212.9 268.5,214.5 269.5,216.1 270.5,217.7 271.5,219.4 272.5,221.0 273.5,222.6 274.5,224.3 275.5,226.0 276.5,227.7 277.5,229.3 278.5,231.0 279.5,232.7 280.5,234.4 281.5,236.1 282.5,237.9 283.5,239.6 284.5,241.3 285.5,243.0 286.5,244.7 287.5,246.4 288.5,248.2 289.5,249.9 290.5,251.6 291.5,253.3 292.5,255.0 293.5,256.7 294.5,258.4 295.5,260.1 296.5,261.8 297.5,263.4 298.5,265.1 299.5,266.8 300.5,268.4 301.5,270.1 302.5,271.7 303.5,273.3 304.5,274.9 305.5,276.5 306.5,278.0 307.5,279.6 308.5,281.1 309.5,282.7 310.5,284.2 311.5,285.6 312.5,287.1 313.5,288.6 314.5,290.0 315.5,291.4 316.5,292.8 317.5,294.2 318.5,295.6 319.5,296.9 320.5,298.2 321.5,299.5 322.5,300.8 323.5,302.1 324.5,303.4 325.5,304.6 326.5,305.9 327.5,307.1 328.5,308.3 329.5,309.5 330.5,310.6 331.5,311.8 332.5,312.9 333.5,314.1 334.5,315.2 335.5,316.3 336.5,317.4 337.5,318.4 338.5,319.5 339.5,320.5 340.5,321.5 341.5,322.6 342.5,323.6 343.5,324.5 344.5,325.5 345.5,326.5 346.5,327.4 347.5,328.4 348.5,329.3 349.5,330.2 350.5,331.1 351.5,332.0 352.5,332.8 353.5,333.7 354.5,334.5 355.5,335.4 356.5,336.2 357.5,337.0 358.5,337.8 359.5,338.6 360.5,339.4 361.5,340.2 362.5,340.9 363.5,341.7 364.5,342.4 365.5,343.1 366.5,343.8 367.5,344.6 368.5,345.2 369.5,345.9 370.5,346.6 371.5,347.3 372.5,347.9 373.5,348.6 374.5,349.2 375.5,349.9 376.5,350.5 377.5,351.1 378.5,351.7 379.5,352.3 380.5,352.9 381.5,353.5 382.5,354.0 383.5,354.6 384.5,355.1 385.5,355.7 386.5,356.2 387.5,356.8 388.5,357.3 389.5,357.8 390.5,358.3 391.5,358.8 392.5,359.3 393.5,359.8 394.5,360.2 395.5,360.7 396.5,361.2 397.5,361.6 398.5,362.0 399.5,362.5 400.5,362.9 401.5,363.3 402.5,363.7 403.5,364.2 404.5,364.6 405.5,365.0 406.5,365.3 407.5,365.7 408.5,366.1 409.5,366.5 410.5,366.8 411.5,367.2 412.5,367.5 413.5,367.9 414.5,368.2 415.5,368.5 416.5,368.9 417.5,369.2 418.5,369.5 419.5,369.8 420.5,370.1 421.5,370.4 422.5,370.7 423.5,371.0 424.5,371.3 425.5,371.5 426.5,371.8 427.5,372.1 428.5,372.3 429.5,372.6 430.5,372.9 431.5,373.1 432.5,373.3 433.5,373.6 434.5,373.8 435.5,374.0 436.5,374.3 437.5,374.5 438.5,374.7 439.5,374.9 440.5,375.1 441.5,375.3 442.5,375.5 443.5,375.7 444.5,375.9 445.5,376.1 446.5,376.3 447.5,376.5 448.5,376.7 449.5,376.8 450.5,377.0 451.5,377.2 452.5,377.4 453.5,377.5 454.5,377.7 455.5,377.8 456.5,378.0 457.5,378.2 458.5,378.3 459.5,378.5 460.5,378.6 461.5,378.8 462.5,378.9 463.5,379.0 464.5,379.2 465.5,379.3 466.5,379.4 467.5,379.6 468.5,379.7 469.5,379.8 470.5,380.0 471.5,380.1 472.5,380.2 473.5,380.3 474.5,380.5 475.5,380.6 476.5,380.7 477.5,380.8 478.5,381.0 479.5,381.1 480.5,381.2 481.5,381.3 482.5,381.4 483.5,381.5 484.5,381.7 485.5,381.8 486.5,381.9 487.5,382.0 488.5,382.1 489.5,382.2 490.5,382.3 491.5,382.5 492.5,382.6 493.5,382.7 494.5,382.8 495.5,382.9 496.5,383.0 497.5,383.2 498.5,383.3 499.5,383.4 500.5,383.5 501.5,383.6 502.5,383.8 503.5,383.9 504.5,384.0 505.5,384.1 506.5,384.3 507.5,384.4 508.5,384.5 509.5,384.6 510.5,384.8 511.5,384.9 512.5,385.0 513.5,385.2 514.5,385.3 515.5,385.5 516.5,385.6 517.5,385.8 518.5,385.9 519.5,386.1 520.0,386.1" fill="none" stroke="#913710" stroke-width="3.8" stroke-linejoin="round" stroke-linecap="round"/>
<path d="M60.0,196.4 61.0,196.6 62.0,196.8 63.0,197.0 64.0,197.2 65.0,197.4 66.0,197.6 67.0,197.8 68.0,198.0 69.0,198.2 70.0,198.4 71.0,198.7 72.0,199.0 73.0,199.3 74.0,199.7 75.0,200.2 76.0,200.6 77.0,201.0 78.0,201.4 79.0,201.8 80.0,202.3 80.3,202.4 M80.3,202.7 81.3,203.2 82.3,203.8 83.3,204.3 84.3,204.9 85.3,205.4 86.3,206.0 87.3,206.5 88.3,207.1 89.3,207.7 90.3,208.2 91.3,208.8 92.3,209.4 93.3,209.9 94.3,210.5 95.3,211.1 96.3,211.6 97.3,212.2 98.3,212.8 99.3,213.4 100.3,213.9 101.3,214.5 102.3,215.1 103.3,215.6 104.3,216.2 105.3,216.8 106.3,217.3 107.3,217.9 108.3,218.5 109.3,219.0 110.3,219.6 111.3,220.1 112.3,220.7 113.3,221.2 114.3,221.8 115.3,222.3 116.3,222.8 117.3,223.3 118.3,223.9 119.3,224.4 120.3,224.9 121.3,225.4 122.3,225.9 123.3,226.4 124.3,226.9 125.3,227.3 126.3,227.8 127.3,228.3 128.3,228.7 129.3,229.2 130.3,229.6 131.3,230.0 132.3,230.5 133.3,230.9 134.3,231.3 135.3,231.7 136.3,232.0 137.3,232.4 138.3,232.8 139.3,233.1 140.3,233.5 141.3,233.8 142.3,234.1 143.3,234.4 144.3,234.7 145.3,235.0 146.3,235.3 147.3,235.5 148.3,235.8 149.3,236.0 150.3,236.2 151.3,236.4 152.3,236.6 153.3,236.8 154.3,236.9 155.3,237.1 156.3,237.2 157.3,237.3 158.3,237.4 159.3,237.5 160.3,237.6 161.3,237.6 161.6,237.7 M161.6,238.6 162.6,238.8 163.6,239.0 164.6,239.2 165.6,239.3 166.6,239.5 167.6,239.6 168.6,239.7 169.6,239.7 170.6,239.8 171.6,239.8 172.6,239.8 173.6,239.8 174.6,239.8 175.6,239.7 176.6,239.6 177.6,239.5 178.6,239.4 179.6,239.2 180.6,239.0 181.6,238.8 182.6,238.5 183.6,238.3 184.6,238.0 185.6,237.6 186.6,237.3 187.6,236.9 188.6,236.5 189.6,236.0 190.6,235.5 191.6,235.0 192.6,234.5 193.6,233.9 194.6,233.3 195.6,232.7 196.6,232.0 197.6,231.4 198.6,230.7 199.6,230.0 200.6,229.3 201.6,228.5 202.6,227.8 203.6,227.1 204.6,226.3 205.6,225.6 206.6,224.9 207.6,224.1 208.6,223.4 209.6,222.7 210.6,222.0 211.6,221.3 212.6,220.6 213.6,219.9 214.6,219.3 215.6,218.7 216.6,218.1 217.6,217.6 218.6,217.1 219.6,216.7 220.6,216.2 221.6,215.9 222.6,215.5 223.6,215.2 224.6,215.0 225.6,214.8 226.6,214.6 227.6,214.5 228.6,214.4 229.6,214.4 230.6,214.4 231.6,214.5 232.6,214.6 233.6,214.8 234.6,215.0 235.6,215.2 236.6,215.5 237.6,215.9 238.6,216.3 239.6,216.7 240.6,217.2 241.6,217.7 242.6,218.2 243.6,218.8 244.6,219.4 245.6,220.1 246.6,220.8 247.6,221.5 248.6,222.2 249.6,223.0 250.6,223.8 251.6,224.6 252.6,225.5 253.6,226.4 254.6,227.3 255.6,228.2 256.6,229.1 257.6,230.1 258.6,231.1 259.6,232.1 260.6,233.1 261.6,234.2 262.6,235.2 263.6,236.3 264.6,237.4 265.6,238.5 266.6,239.6 267.6,240.7 268.6,241.9 269.6,243.0 270.6,244.2 271.6,245.4 272.6,246.6 273.6,247.8 274.6,249.0 275.6,250.3 276.6,251.5 277.6,252.8 278.6,254.0 279.6,255.3 280.6,256.6 281.6,257.9 282.6,259.2 283.6,260.5 284.6,261.9 285.6,263.2 286.6,264.5 287.6,265.9 288.6,267.2 289.6,268.6 290.6,269.9 291.6,271.3 292.6,272.6 293.6,274.0 294.6,275.4 295.6,276.7 296.6,278.1 297.6,279.4 298.6,280.7 299.6,282.1 300.6,283.4 301.6,284.7 302.6,286.0 303.6,287.3 304.6,288.6 305.6,289.9 306.6,291.2 307.6,292.5 308.6,293.7 309.6,295.0 310.6,296.2 311.6,297.5 312.6,298.7 313.6,299.9 314.6,301.1 315.6,302.3 316.6,303.5 317.6,304.6 318.6,305.8 319.6,306.9 320.6,308.0 321.6,309.1 322.6,310.2 323.6,311.2 324.6,312.3 325.6,313.3 326.6,314.3 327.6,315.3 328.6,316.3 329.6,317.3 330.6,318.2 331.6,319.2 332.6,320.1 333.6,321.0 334.6,321.9 335.6,322.8 336.6,323.7 337.6,324.5 338.6,325.4 339.6,326.2 340.6,327.1 341.6,327.9 342.6,328.7 343.6,329.5 344.6,330.3 345.6,331.1 346.6,331.9 347.6,332.7 348.6,333.4 349.6,334.2 350.6,335.0 351.6,335.7 352.6,336.5 353.6,337.3 354.6,338.0 355.6,338.8 356.6,339.5 357.6,340.2 358.6,341.0 359.6,341.7 360.6,342.4 361.6,343.1 362.6,343.9 363.6,344.6 364.6,345.3 365.6,345.9 366.6,346.6 367.6,347.3 368.6,348.0 369.6,348.6 370.6,349.3 371.6,349.9 372.6,350.6 373.6,351.2 374.6,351.8 375.6,352.4 376.6,353.0 377.6,353.6 378.6,354.1 379.6,354.7 380.6,355.3 381.6,355.8 382.6,356.3 383.6,356.8 384.6,357.3 385.6,357.8 386.6,358.3 387.6,358.8 388.6,359.3 389.6,359.7 390.6,360.2 391.6,360.6 392.6,361.1 393.6,361.5 394.6,361.9 395.6,362.3 396.6,362.8 397.6,363.2 398.6,363.5 399.6,363.9 400.6,364.3 401.6,364.7 402.6,365.1 403.6,365.4 404.6,365.8 405.6,366.2 406.6,366.5 407.6,366.9 408.6,367.2 409.6,367.5 410.6,367.9 411.6,368.2 412.6,368.5 413.6,368.8 414.6,369.2 415.6,369.5 416.6,369.8 417.6,370.1 418.6,370.4 419.6,370.7 420.6,371.0 421.6,371.3 422.6,371.5 423.6,371.8 424.6,372.1 425.6,372.4 426.6,372.6 427.6,372.9 428.6,373.1 429.6,373.4 430.6,373.7 431.6,373.9 432.6,374.1 433.6,374.4 434.6,374.6 435.6,374.9 436.6,375.1 437.6,375.3 438.6,375.5 439.6,375.8 440.6,376.0 441.6,376.2 442.6,376.4 443.6,376.6 444.6,376.8 445.6,377.0 446.6,377.2 447.6,377.4 448.6,377.6 449.6,377.8 450.6,378.0 451.6,378.2 452.6,378.3 453.6,378.5 454.6,378.7 455.6,378.9 456.6,379.0 457.6,379.2 458.6,379.4 459.6,379.5 460.6,379.7 461.6,379.8 462.6,380.0 463.6,380.1 464.6,380.3 465.6,380.4 466.6,380.6 467.6,380.7 468.6,380.9 469.6,381.0 470.6,381.2 471.6,381.3 472.6,381.4 473.6,381.6 474.6,381.7 475.6,381.8 476.6,381.9 477.6,382.1 478.6,382.2 479.6,382.3 480.6,382.4 481.6,382.5 482.6,382.7 483.6,382.8 484.6,382.9 485.6,383.0 486.6,383.1 487.6,383.2 488.6,383.3 489.6,383.4 490.6,383.5 491.6,383.7 492.6,383.8 493.6,383.9 494.6,384.0 495.6,384.1 496.6,384.2 497.6,384.3 498.6,384.4 499.6,384.5 500.6,384.6 501.6,384.7 502.6,384.7 503.6,384.8 504.6,384.9 505.6,385.0 506.6,385.1 507.6,385.2 508.6,385.3 509.6,385.4 510.6,385.5 511.6,385.6 512.6,385.7 513.6,385.8 514.6,385.9 515.6,386.0 516.6,386.0 517.6,386.1 518.6,386.2 519.6,386.3 520.0,386.3" fill="none" stroke="#4bd20a" stroke-width="3.9" stroke-linejoin="round" stroke-linecap="round"/>
<path d="M60.0,203.6 61.0,204.0 62.0,204.3 63.0,204.7 64.0,205.1 65.0,205.5 66.0,205.9 67.0,206.3 68.0,206.7 69.0,207.1 70.0,207.5 71.0,208.0 72.0,208.4 73.0,208.9 74.0,209.4 75.0,209.8 76.0,210.3 77.0,210.8 78.0,211.2 79.0,211.7 79.7,212.0 M80.5,211.1 81.5,211.5 82.5,212.0 83.5,212.5 84.5,213.0 85.5,213.6 86.5,214.1 87.5,214.6 88.5,215.1 89.5,215.7 90.5,216.2 91.5,216.7 92.5,217.3 93.5,217.8 94.5,218.4 95.5,218.9 96.5,219.5 97.5,220.1 98.5,220.6 99.5,221.2 100.5,221.7 101.5,222.3 102.5,222.9 103.5,223.5 104.5,224.0 105.5,224.6 106.5,225.2 107.5,225.7 108.5,226.3 109.5,226.9 110.5,227.4 111.5,228.0 112.5,228.6 113.5,229.1 114.5,229.7 115.5,230.2 116.5,230.8 117.5,231.3 118.5,231.9 119.5,232.4 120.5,233.0 121.5,233.5 122.5,234.0 123.5,234.5 124.5,235.1 125.5,235.6 126.5,236.1 127.5,236.6 128.5,237.1 129.5,237.6 130.5,238.0 131.5,238.5 132.5,239.0 133.5,239.4 134.5,239.9 135.5,240.3 136.5,240.7 137.5,241.1 138.5,241.6 139.5,242.0 140.5,242.3 141.5,242.7 142.5,243.1 143.5,243.4 144.5,243.8 145.5,244.1 146.5,244.4 147.5,244.8 148.5,245.1 149.5,245.3 150.5,245.6 151.5,245.9 152.5,246.1 153.5,246.3 154.5,246.5 155.5,246.7 156.5,246.9 157.5,247.1 158.5,247.3 159.5,247.4 160.5,247.5 161.2,247.6 M162.0,249.7 163.0,249.9 164.0,250.1 165.0,250.2 166.0,250.4 167.0,250.5 168.0,250.6 169.0,250.6 170.0,250.7 171.0,250.7 172.0,250.7 173.0,250.7 174.0,250.6 175.0,250.5 176.0,250.5 177.0,250.4 178.0,250.2 179.0,250.1 180.0,249.9 181.0,249.7 182.0,249.5 183.0,249.3 184.0,249.0 185.0,248.8 186.0,248.5 187.0,248.2 188.0,247.9 189.0,247.5 190.0,247.2 191.0,246.8 192.0,246.4 193.0,246.0 194.0,245.6 195.0,245.1 196.0,244.7 197.0,244.2 198.0,243.7 199.0,243.2 200.0,242.7 201.0,242.2 202.0,241.7 203.0,241.2 204.0,240.7 205.0,240.2 206.0,239.7 207.0,239.2 208.0,238.8 209.0,238.3 210.0,237.9 211.0,237.4 212.0,237.0 213.0,236.6 214.0,236.3 215.0,235.9 216.0,235.6 217.0,235.3 218.0,235.0 219.0,234.8 220.0,234.6 221.0,234.4 222.0,234.2 223.0,234.1 224.0,234.0 225.0,233.9 226.0,233.9 227.0,233.8 228.0,233.9 229.0,233.9 230.0,234.0 231.0,234.1 232.0,234.3 233.0,234.5 234.0,234.7 235.0,235.0 236.0,235.3 237.0,235.6 238.0,236.0 239.0,236.4 240.0,236.9 241.0,237.4 242.0,238.0 243.0,238.6 244.0,239.2 245.0,239.9 246.0,240.6 247.0,241.4 248.0,242.2 249.0,243.0 250.0,243.8 251.0,244.7 252.0,245.6 253.0,246.5 254.0,247.5 255.0,248.5 256.0,249.5 257.0,250.5 258.0,251.6 259.0,252.6 260.0,253.7 261.0,254.8 262.0,255.9 263.0,257.0 264.0,258.2 265.0,259.3 266.0,260.5 267.0,261.6 268.0,262.8 269.0,264.0 270.0,265.2 271.0,266.3 272.0,267.5 273.0,268.7 274.0,269.9 275.0,271.0 276.0,272.2 277.0,273.4 278.0,274.6 279.0,275.8 280.0,276.9 281.0,278.1 282.0,279.3 283.0,280.5 284.0,281.6 285.0,282.8 286.0,284.0 287.0,285.1 288.0,286.3 289.0,287.5 290.0,288.6 291.0,289.8 292.0,290.9 293.0,292.1 294.0,293.2 295.0,294.4 296.0,295.5 297.0,296.6 298.0,297.7 299.0,298.8 300.0,299.9 301.0,301.0 302.0,302.1 303.0,303.1 304.0,304.2 305.0,305.2 306.0,306.2 307.0,307.2 308.0,308.2 309.0,309.2 310.0,310.1 311.0,311.1 312.0,312.0 313.0,312.9 314.0,313.8 315.0,314.8 316.0,315.7 317.0,316.6 318.0,317.5 319.0,318.3 320.0,319.2 321.0,320.1 322.0,321.0 323.0,321.8 324.0,322.7 325.0,323.6 326.0,324.4 327.0,325.3 328.0,326.2 329.0,327.0 330.0,327.9 331.0,328.8 332.0,329.6 333.0,330.5 334.0,331.4 335.0,332.3 336.0,333.1 337.0,334.0 338.0,334.9 339.0,335.8 340.0,336.6 341.0,337.5 342.0,338.4 343.0,339.2 344.0,340.1 345.0,340.9 346.0,341.7 347.0,342.5 348.0,343.3 349.0,344.1 350.0,344.9 351.0,345.7 352.0,346.5 353.0,347.2 354.0,347.9 355.0,348.7 356.0,349.4 357.0,350.1 358.0,350.7 359.0,351.4 360.0,352.0 361.0,352.7 362.0,353.3 363.0,353.9 364.0,354.5 365.0,355.1 366.0,355.7 367.0,356.3 368.0,356.8 369.0,357.4 370.0,357.9 371.0,358.4 372.0,359.0 373.0,359.5 374.0,360.0 375.0,360.5 376.0,360.9 377.0,361.4 378.0,361.9 379.0,362.3 380.0,362.8 381.0,363.2 382.0,363.7 383.0,364.1 384.0,364.5 385.0,364.9 386.0,365.3 387.0,365.7 388.0,366.1 389.0,366.5 390.0,366.9 391.0,367.3 392.0,367.6 393.0,368.0 394.0,368.4 395.0,368.7 396.0,369.0 397.0,369.4 398.0,369.7 399.0,370.0 400.0,370.4 401.0,370.7 402.0,371.0 403.0,371.3 404.0,371.6 405.0,371.9 406.0,372.2 407.0,372.5 408.0,372.8 409.0,373.0 410.0,373.3 411.0,373.6 412.0,373.9 413.0,374.1 414.0,374.4 415.0,374.6 416.0,374.9 417.0,375.1 418.0,375.4 419.0,375.6 420.0,375.9 421.0,376.1 422.0,376.4 423.0,376.6 424.0,376.8 425.0,377.1 426.0,377.3 427.0,377.5 428.0,377.7 429.0,378.0 430.0,378.2 431.0,378.4 432.0,378.6 433.0,378.8 434.0,379.1 435.0,379.3 436.0,379.5 437.0,379.7 438.0,379.9 439.0,380.1 440.0,380.3 441.0,380.6 442.0,380.8 443.0,381.0 444.0,381.2 445.0,381.4 446.0,381.6 447.0,381.8 448.0,382.0 449.0,382.2 450.0,382.4 451.0,382.6 452.0,382.8 453.0,383.0 454.0,383.2 455.0,383.4 456.0,383.6 457.0,383.8 458.0,383.9 459.0,384.1 460.0,384.3 461.0,384.5 462.0,384.7 463.0,384.8 464.0,385.0 465.0,385.2 466.0,385.3 467.0,385.5 468.0,385.7 469.0,385.8 470.0,386.0 471.0,386.1 472.0,386.3 473.0,386.4 474.0,386.6 475.0,386.7 476.0,386.8 477.0,387.0 478.0,387.1 479.0,387.2 480.0,387.4 481.0,387.5 482.0,387.6 483.0,387.7 484.0,387.8 485.0,387.9 486.0,388.0 487.0,388.1 488.0,388.2 489.0,388.3 490.0,388.4 491.0,388.5 492.0,388.6 493.0,388.7 494.0,388.7 495.0,388.8 496.0,388.9 497.0,388.9 498.0,389.0 499.0,389.0 500.0,389.1 501.0,389.1 502.0,389.2 503.0,389.2 504.0,389.2 505.0,389.2 506.0,389.3 507.0,389.3 508.0,389.3 509.0,389.3 510.0,389.3 511.0,389.3 512.0,389.3 513.0,389.2 514.0,389.2 515.0,389.2 516.0,389.2 517.0,389.1 518.0,389.1 519.0,389.0 520.0,389.0" fill="none" stroke="#0a00f0" stroke-width="4.0" stroke-linejoin="round" stroke-linecap="round"/>
<path d="M60.0,207.6 61.0,207.9 62.0,208.1 63.0,208.4 64.0,208.7 65.0,209.0 66.0,209.3 67.0,209.6 68.0,209.9 69.0,210.3 70.0,210.6 71.0,210.9 72.0,211.3 73.0,211.7 74.0,212.0 75.0,212.4 76.0,212.8 77.0,213.2 78.0,213.6 79.0,214.1 80.0,214.5 M80.0,215.1 81.0,215.7 82.0,216.3 83.0,216.9 84.0,217.5 85.0,218.1 86.0,218.7 87.0,219.3 88.0,219.9 89.0,220.5 90.0,221.1 91.0,221.7 92.0,222.3 93.0,223.0 94.0,223.6 95.0,224.2 96.0,224.8 97.0,225.4 98.0,226.0 99.0,226.6 100.0,227.2 101.0,227.8 102.0,228.4 103.0,229.0 104.0,229.6 105.0,230.1 106.0,230.7 107.0,231.3 108.0,231.9 109.0,232.5 110.0,233.0 111.0,233.6 112.0,234.2 113.0,234.7 114.0,235.3 115.0,235.8 116.0,236.4 117.0,236.9 118.0,237.4 119.0,237.9 120.0,238.5 121.0,239.0 122.0,239.5 123.0,240.0 124.0,240.4 125.0,240.9 126.0,241.4 127.0,241.9 128.0,242.3 129.0,242.8 130.0,243.2 131.0,243.6 132.0,244.1 133.0,244.5 134.0,244.9 135.0,245.3 136.0,245.7 137.0,246.0 138.0,246.4 139.0,246.7 140.0,247.1 141.0,247.4 142.0,247.7 143.0,248.0 144.0,248.3 145.0,248.6 146.0,248.9 147.0,249.2 148.0,249.4 149.0,249.6 150.0,249.9 151.0,250.1 152.0,250.3 153.0,250.4 154.0,250.6 155.0,250.7 156.0,250.9 157.0,251.0 158.0,251.1 159.0,251.2 160.0,251.3 161.0,251.3 161.6,251.4 M161.8,252.7 162.8,253.0 163.8,253.3 164.8,253.5 165.8,253.8 166.8,254.0 167.8,254.1 168.8,254.3 169.8,254.4 170.8,254.4 171.8,254.5 172.8,254.5 173.8,254.5 174.8,254.5 175.8,254.4 176.8,254.4 177.8,254.3 178.8,254.2 179.8,254.1 180.8,253.9 181.8,253.8 182.8,253.6 183.8,253.4 184.8,253.2 185.8,253.0 186.8,252.8 187.8,252.6 188.8,252.3 189.8,252.1 190.8,251.8 191.8,251.6 192.8,251.3 193.8,251.1 194.8,250.8 195.8,250.5 196.8,250.3 197.8,250.0 198.8,249.7 199.8,249.5 200.8,249.2 201.8,249.0 202.8,248.7 203.8,248.5 204.8,248.2 205.8,248.0 206.8,247.8 207.8,247.6 208.8,247.4 209.8,247.2 210.8,247.1 211.8,246.9 212.8,246.8 213.8,246.7 214.8,246.6 215.8,246.5 216.8,246.4 217.8,246.3 218.8,246.3 219.8,246.3 220.8,246.3 221.8,246.3 222.8,246.4 223.8,246.4 224.8,246.5 225.8,246.6 226.8,246.8 227.8,246.9 228.8,247.1 229.8,247.3 230.8,247.6 231.8,247.8 232.8,248.1 233.8,248.4 234.8,248.8 235.8,249.1 236.8,249.5 237.8,250.0 238.8,250.4 239.8,250.9 240.8,251.4 241.8,252.0 242.8,252.6 243.8,253.2 244.8,253.8 245.8,254.5 246.8,255.2 247.8,256.0 248.8,256.8 249.8,257.6 250.8,258.4 251.8,259.3 252.8,260.2 253.8,261.1 254.8,262.0 255.8,263.0 256.8,264.0 257.8,265.0 258.8,266.0 259.8,267.0 260.8,268.0 261.8,269.1 262.8,270.1 263.8,271.2 264.8,272.3 265.8,273.4 266.8,274.5 267.8,275.6 268.8,276.7 269.8,277.8 270.8,278.9 271.8,280.0 272.8,281.1 273.8,282.2 274.8,283.3 275.8,284.4 276.8,285.6 277.8,286.7 278.8,287.8 279.8,288.9 280.8,290.0 281.8,291.1 282.8,292.2 283.8,293.3 284.8,294.4 285.8,295.5 286.8,296.6 287.8,297.7 288.8,298.8 289.8,299.9 290.8,300.9 291.8,302.0 292.8,303.1 293.8,304.1 294.8,305.2 295.8,306.3 296.8,307.3 297.8,308.4 298.8,309.4 299.8,310.4 300.8,311.4 301.8,312.5 302.8,313.5 303.8,314.5 304.8,315.5 305.8,316.4 306.8,317.4 307.8,318.4 308.8,319.3 309.8,320.3 310.8,321.2 311.8,322.1 312.8,323.1 313.8,324.0 314.8,324.9 315.8,325.7 316.8,326.6 317.8,327.5 318.8,328.3 319.8,329.2 320.8,330.0 321.8,330.8 322.8,331.6 323.8,332.4 324.8,333.2 325.8,334.0 326.8,334.8 327.8,335.5 328.8,336.3 329.8,337.0 330.8,337.7 331.8,338.5 332.8,339.2 333.8,339.9 334.8,340.6 335.8,341.3 336.8,341.9 337.8,342.6 338.8,343.3 339.8,343.9 340.8,344.6 341.8,345.2 342.8,345.8 343.8,346.5 344.8,347.1 345.8,347.7 346.8,348.3 347.8,348.9 348.8,349.5 349.8,350.1 350.8,350.7 351.8,351.2 352.8,351.8 353.8,352.4 354.8,352.9 355.8,353.5 356.8,354.0 357.8,354.5 358.8,355.1 359.8,355.6 360.8,356.1 361.8,356.7 362.8,357.2 363.8,357.7 364.8,358.2 365.8,358.7 366.8,359.2 367.8,359.7 368.8,360.2 369.8,360.7 370.8,361.2 371.8,361.7 372.8,362.1 373.8,362.6 374.8,363.1 375.8,363.5 376.8,364.0 377.8,364.5 378.8,364.9 379.8,365.4 380.8,365.8 381.8,366.2 382.8,366.7 383.8,367.1 384.8,367.5 385.8,367.9 386.8,368.3 387.8,368.7 388.8,369.1 389.8,369.5 390.8,369.9 391.8,370.2 392.8,370.6 393.8,370.9 394.8,371.3 395.8,371.6 396.8,371.9 397.8,372.2 398.8,372.5 399.8,372.8 400.8,373.1 401.8,373.4 402.8,373.7 403.8,374.0 404.8,374.2 405.8,374.5 406.8,374.7 407.8,375.0 408.8,375.2 409.8,375.4 410.8,375.7 411.8,375.9 412.8,376.1 413.8,376.3 414.8,376.5 415.8,376.7 416.8,376.9 417.8,377.1 418.8,377.3 419.8,377.5 420.8,377.7 421.8,377.9 422.8,378.1 423.8,378.2 424.8,378.4 425.8,378.6 426.8,378.8 427.8,378.9 428.8,379.1 429.8,379.2 430.8,379.4 431.8,379.5 432.8,379.7 433.8,379.8 434.8,380.0 435.8,380.1 436.8,380.3 437.8,380.4 438.8,380.5 439.8,380.7 440.8,380.8 441.8,380.9 442.8,381.0 443.8,381.2 444.8,381.3 445.8,381.4 446.8,381.5 447.8,381.6 448.8,381.7 449.8,381.8 450.8,381.9 451.8,382.0 452.8,382.2 453.8,382.3 454.8,382.4 455.8,382.5 456.8,382.6 457.8,382.7 458.8,382.8 459.8,382.8 460.8,382.9 461.8,383.0 462.8,383.1 463.8,383.2 464.8,383.3 465.8,383.4 466.8,383.5 467.8,383.6 468.8,383.7 469.8,383.8 470.8,383.8 471.8,383.9 472.8,384.0 473.8,384.1 474.8,384.2 475.8,384.3 476.8,384.4 477.8,384.4 478.8,384.5 479.8,384.6 480.8,384.7 481.8,384.8 482.8,384.9 483.8,384.9 484.8,385.0 485.8,385.1 486.8,385.2 487.8,385.2 488.8,385.3 489.8,385.4 490.8,385.4 491.8,385.5 492.8,385.6 493.8,385.6 494.8,385.7 495.8,385.8 496.8,385.8 497.8,385.9 498.8,385.9 499.8,386.0 500.8,386.0 501.8,386.1 502.8,386.1 503.8,386.1 504.8,386.2 505.8,386.2 506.8,386.3 507.8,386.3 508.8,386.3 509.8,386.3 510.8,386.4 511.8,386.4 512.8,386.4 513.8,386.4 514.8,386.4 515.8,386.4 516.8,386.4 517.8,386.4 518.8,386.4 519.8,386.4 520.0,386.4" fill="none" stroke="#69bcf0" stroke-width="4.0" stroke-linejoin="round" stroke-linecap="round"/>
<path d="M60.0,209.6 61.0,209.9 62.0,210.2 63.0,210.4 64.0,210.7 65.0,211.0 66.0,211.3 67.0,211.5 68.0,211.8 69.0,212.1 70.0,212.4 71.0,212.7 72.0,213.1 73.0,213.6 74.0,214.2 75.0,214.7 76.0,215.3 77.0,215.8 78.0,216.4 79.0,216.9 80.0,217.5 80.2,217.6 M80.5,219.4 81.5,219.8 82.5,220.3 83.5,220.8 84.5,221.2 85.5,221.7 86.5,222.2 87.5,222.7 88.5,223.2 89.5,223.7 90.5,224.3 91.5,224.8 92.5,225.3 93.5,225.8 94.5,226.4 95.5,226.9 96.5,227.5 97.5,228.0 98.5,228.6 99.5,229.2 100.5,229.7 101.5,230.3 102.5,230.9 103.5,231.4 104.5,232.0 105.5,232.6 106.5,233.2 107.5,233.7 108.5,234.3 109.5,234.9 110.5,235.5 111.5,236.0 112.5,236.6 113.5,237.2 114.5,237.8 115.5,238.3 116.5,238.9 117.5,239.5 118.5,240.0 119.5,240.6 120.5,241.2 121.5,241.7 122.5,242.3 123.5,242.8 124.5,243.4 125.5,243.9 126.5,244.4 127.5,244.9 128.5,245.5 129.5,246.0 130.5,246.5 131.5,247.0 132.5,247.5 133.5,248.0 134.5,248.4 135.5,248.9 136.5,249.4 137.5,249.8 138.5,250.3 139.5,250.7 140.5,251.1 141.5,251.6 142.5,252.0 143.5,252.4 144.5,252.7 145.5,253.1 146.5,253.5 147.5,253.8 148.5,254.1 149.5,254.5 150.5,254.8 151.5,255.1 152.5,255.4 153.5,255.6 154.5,255.9 155.5,256.1 156.5,256.4 157.5,256.6 158.5,256.8 159.5,256.9 160.5,257.1 161.5,257.3 162.5,257.4 M162.5,259.7 163.5,259.9 164.5,260.1 165.5,260.2 166.5,260.4 167.5,260.5 168.5,260.5 169.5,260.6 170.5,260.6 171.5,260.7 172.5,260.7 173.5,260.6 174.5,260.6 175.5,260.6 176.5,260.5 177.5,260.4 178.5,260.3 179.5,260.2 180.5,260.1 181.5,260.0 182.5,259.8 183.5,259.7 184.5,259.5 185.5,259.3 186.5,259.2 187.5,259.0 188.5,258.8 189.5,258.6 190.5,258.4 191.5,258.2 192.5,258.0 193.5,257.8 194.5,257.6 195.5,257.4 196.5,257.2 197.5,257.0 198.5,256.8 199.5,256.6 200.5,256.4 201.5,256.2 202.5,256.0 203.5,255.8 204.5,255.7 205.5,255.5 206.5,255.4 207.5,255.2 208.5,255.1 209.5,255.0 210.5,254.9 211.5,254.8 212.5,254.7 213.5,254.6 214.5,254.6 215.5,254.5 216.5,254.5 217.5,254.5 218.5,254.6 219.5,254.6 220.5,254.7 221.5,254.7 222.5,254.8 223.5,255.0 224.5,255.1 225.5,255.3 226.5,255.5 227.5,255.7 228.5,256.0 229.5,256.3 230.5,256.6 231.5,256.9 232.5,257.3 233.5,257.7 234.5,258.1 235.5,258.6 236.5,259.1 237.5,259.6 238.5,260.2 239.5,260.8 240.5,261.5 241.5,262.1 242.5,262.9 243.5,263.6 244.5,264.4 245.5,265.2 246.5,266.0 247.5,266.9 248.5,267.8 249.5,268.7 250.5,269.7 251.5,270.6 252.5,271.6 253.5,272.6 254.5,273.6 255.5,274.7 256.5,275.7 257.5,276.8 258.5,277.9 259.5,279.0 260.5,280.1 261.5,281.2 262.5,282.3 263.5,283.4 264.5,284.5 265.5,285.7 266.5,286.8 267.5,287.9 268.5,289.0 269.5,290.1 270.5,291.3 271.5,292.4 272.5,293.5 273.5,294.6 274.5,295.6 275.5,296.7 276.5,297.8 277.5,298.9 278.5,299.9 279.5,301.0 280.5,302.1 281.5,303.1 282.5,304.1 283.5,305.2 284.5,306.2 285.5,307.2 286.5,308.3 287.5,309.3 288.5,310.3 289.5,311.3 290.5,312.3 291.5,313.3 292.5,314.3 293.5,315.3 294.5,316.2 295.5,317.2 296.5,318.2 297.5,319.1 298.5,320.1 299.5,321.0 300.5,321.9 301.5,322.9 302.5,323.8 303.5,324.7 304.5,325.5 305.5,326.4 306.5,327.3 307.5,328.1 308.5,329.0 309.5,329.8 310.5,330.6 311.5,331.4 312.5,332.2 313.5,333.0 314.5,333.8 315.5,334.6 316.5,335.3 317.5,336.1 318.5,336.8 319.5,337.6 320.5,338.3 321.5,339.0 322.5,339.7 323.5,340.4 324.5,341.1 325.5,341.8 326.5,342.5 327.5,343.2 328.5,343.8 329.5,344.5 330.5,345.1 331.5,345.8 332.5,346.4 333.5,347.1 334.5,347.7 335.5,348.3 336.5,348.9 337.5,349.5 338.5,350.1 339.5,350.7 340.5,351.3 341.5,351.9 342.5,352.5 343.5,353.1 344.5,353.7 345.5,354.2 346.5,354.8 347.5,355.4 348.5,355.9 349.5,356.5 350.5,357.1 351.5,357.6 352.5,358.2 353.5,358.7 354.5,359.3 355.5,359.8 356.5,360.4 357.5,360.9 358.5,361.4 359.5,362.0 360.5,362.5 361.5,363.0 362.5,363.6 363.5,364.1 364.5,364.6 365.5,365.1 366.5,365.6 367.5,366.1 368.5,366.6 369.5,367.1 370.5,367.6 371.5,368.1 372.5,368.6 373.5,369.0 374.5,369.5 375.5,370.0 376.5,370.4 377.5,370.9 378.5,371.3 379.5,371.8 380.5,372.2 381.5,372.7 382.5,373.1 383.5,373.5 384.5,373.9 385.5,374.3 386.5,374.7 387.5,375.1 388.5,375.5 389.5,375.9 390.5,376.3 391.5,376.6 392.5,377.0 393.5,377.3 394.5,377.7 395.5,378.0 396.5,378.3 397.5,378.6 398.5,379.0 399.5,379.3 400.5,379.6 401.5,379.8 402.5,380.1 403.5,380.4 404.5,380.7 405.5,380.9 406.5,381.2 407.5,381.4 408.5,381.7 409.5,381.9 410.5,382.1 411.5,382.4 412.5,382.6 413.5,382.8 414.5,383.0 415.5,383.2 416.5,383.4 417.5,383.6 418.5,383.8 419.5,384.0 420.5,384.1 421.5,384.3 422.5,384.5 423.5,384.7 424.5,384.8 425.5,385.0 426.5,385.1 427.5,385.3 428.5,385.4 429.5,385.6 430.5,385.7 431.5,385.9 432.5,386.0 433.5,386.1 434.5,386.3 435.5,386.4 436.5,386.5 437.5,386.7 438.5,386.8 439.5,386.9 440.5,387.0 441.5,387.2 442.5,387.3 443.5,387.4 444.5,387.5 445.5,387.6 446.5,387.8 447.5,387.9 448.5,388.0 449.5,388.1 450.5,388.2 451.5,388.3 452.5,388.4 453.5,388.6 454.5,388.7 455.5,388.8 456.5,388.9 457.5,389.0 458.5,389.1 459.5,389.2 460.5,389.3 461.5,389.4 462.5,389.5 463.5,389.6 464.5,389.7 465.5,389.8 466.5,389.9 467.5,390.0 468.5,390.1 469.5,390.2 470.5,390.3 471.5,390.4 472.5,390.5 473.5,390.6 474.5,390.6 475.5,390.7 476.5,390.8 477.5,390.9 478.5,391.0 479.5,391.0 480.5,391.1 481.5,391.2 482.5,391.3 483.5,391.3 484.5,391.4 485.5,391.4 486.5,391.5 487.5,391.6 488.5,391.6 489.5,391.7 490.5,391.7 491.5,391.8 492.5,391.8 493.5,391.9 494.5,391.9 495.5,391.9 496.5,392.0 497.5,392.0 498.5,392.0 499.5,392.1 500.5,392.1 501.5,392.1 502.5,392.1 503.5,392.2 504.5,392.2 505.5,392.2 506.5,392.2 507.5,392.2 508.5,392.2 509.5,392.2 510.5,392.2 511.5,392.2 512.5,392.2 513.5,392.1 514.5,392.1 515.5,392.1 516.5,392.1 517.5,392.1 518.5,392.0 519.5,392.0 520.0,392.0" fill="none" stroke="#aa28e8" stroke-width="4.0" stroke-linejoin="round" stroke-linecap="round"/>
</g>
<rect x="59.5" y="11.5" width="461.5" height="378.0" fill="none" stroke="#000" stroke-width="2"/>
<line x1="52.5" y1="389.50" x2="59.5" y2="389.50" stroke="#000" stroke-width="1.6"/>
<text transform="translate(48,394.30) scale(1,1.06)" text-anchor="end" class="tk">0.0</text>
<line x1="55.5" y1="351.70" x2="59.5" y2="351.70" stroke="#000" stroke-width="1.6"/>
<line x1="52.5" y1="313.90" x2="59.5" y2="313.90" stroke="#000" stroke-width="1.6"/>
<text transform="translate(48,318.70) scale(1,1.06)" text-anchor="end" class="tk">0.2</text>
<line x1="55.5" y1="276.10" x2="59.5" y2="276.10" stroke="#000" stroke-width="1.6"/>
<line x1="52.5" y1="238.30" x2="59.5" y2="238.30" stroke="#000" stroke-width="1.6"/>
<text transform="translate(48,243.10) scale(1,1.06)" text-anchor="end" class="tk">0.4</text>
<line x1="55.5" y1="200.50" x2="59.5" y2="200.50" stroke="#000" stroke-width="1.6"/>
<line x1="52.5" y1="162.70" x2="59.5" y2="162.70" stroke="#000" stroke-width="1.6"/>
<text transform="translate(48,167.50) scale(1,1.06)" text-anchor="end" class="tk">0.6</text>
<line x1="55.5" y1="124.90" x2="59.5" y2="124.90" stroke="#000" stroke-width="1.6"/>
<line x1="52.5" y1="87.10" x2="59.5" y2="87.10" stroke="#000" stroke-width="1.6"/>
<text transform="translate(48,91.90) scale(1,1.06)" text-anchor="end" class="tk">0.8</text>
<line x1="55.5" y1="49.30" x2="59.5" y2="49.30" stroke="#000" stroke-width="1.6"/>
<line x1="52.5" y1="11.50" x2="59.5" y2="11.50" stroke="#000" stroke-width="1.6"/>
<text transform="translate(48,16.30) scale(1,1.06)" text-anchor="end" class="tk">1.0</text>
<line x1="59.50" y1="389.5" x2="59.50" y2="393.5" stroke="#000" stroke-width="1.6"/>
<line x1="110.78" y1="389.5" x2="110.78" y2="396.5" stroke="#000" stroke-width="1.6"/>
<text transform="translate(111.48,412.5) scale(1,1.06)" text-anchor="middle" class="tk">400</text>
<line x1="162.06" y1="389.5" x2="162.06" y2="393.5" stroke="#000" stroke-width="1.6"/>
<line x1="213.33" y1="389.5" x2="213.33" y2="396.5" stroke="#000" stroke-width="1.6"/>
<text transform="translate(214.03,412.5) scale(1,1.06)" text-anchor="middle" class="tk">500</text>
<line x1="264.61" y1="389.5" x2="264.61" y2="393.5" stroke="#000" stroke-width="1.6"/>
<line x1="315.89" y1="389.5" x2="315.89" y2="396.5" stroke="#000" stroke-width="1.6"/>
<text transform="translate(316.59,412.5) scale(1,1.06)" text-anchor="middle" class="tk">600</text>
<line x1="367.17" y1="389.5" x2="367.17" y2="393.5" stroke="#000" stroke-width="1.6"/>
<line x1="418.44" y1="389.5" x2="418.44" y2="396.5" stroke="#000" stroke-width="1.6"/>
<text transform="translate(419.14,412.5) scale(1,1.06)" text-anchor="middle" class="tk">700</text>
<line x1="469.72" y1="389.5" x2="469.72" y2="393.5" stroke="#000" stroke-width="1.6"/>
<line x1="521.00" y1="389.5" x2="521.00" y2="396.5" stroke="#000" stroke-width="1.6"/>
<text transform="translate(521.70,412.5) scale(1,1.06)" text-anchor="middle" class="tk">800</text>
<text transform="translate(208,431) scale(1,1.05)" class="tt">Wavelength (nm)</text>
<text transform="translate(23.5,256) rotate(-90) scale(1,1.05)" class="tt">Absorbance</text>
<rect x="360" y="32" width="55.5" height="15.5" fill="#ffe6fa"/>
<line x1="360" y1="40.90" x2="411" y2="40.90" stroke="#913710" stroke-width="4"/>
<circle cx="411" cy="40.90" r="2.0" fill="#913710"/>
<text transform="translate(417,47.20) scale(1,1.06)" class="lg">pH = 1.9</text>
<rect x="360" y="64.3" width="55.5" height="7.4" fill="#b8fff8"/>
<line x1="360" y1="67.50" x2="411" y2="67.50" stroke="#4bd20a" stroke-width="4"/>
<circle cx="411" cy="67.50" r="2.0" fill="#4bd20a"/>
<text transform="translate(417,73.80) scale(1,1.06)" class="lg">pH = 2.6</text>
<rect x="360" y="88.2" width="55" height="8.8" fill="#f0ffff"/>
<line x1="360" y1="94.10" x2="411" y2="94.10" stroke="#0a00f0" stroke-width="4"/>
<circle cx="411" cy="94.10" r="2.0" fill="#0a00f0"/>
<text transform="translate(417,100.40) scale(1,1.06)" class="lg">pH = 3.5</text>
<rect x="360" y="112" width="55.5" height="15.8" fill="#d8fcff"/>
<line x1="360" y1="120.70" x2="411" y2="120.70" stroke="#69bcf0" stroke-width="4"/>
<circle cx="411" cy="120.70" r="2.0" fill="#69bcf0"/>
<text transform="translate(417,127.00) scale(1,1.06)" class="lg">pH = 5.9</text>
<rect x="360" y="144.5" width="55" height="7" fill="#ffe0ff"/>
<line x1="360" y1="147.30" x2="411" y2="147.30" stroke="#aa28e8" stroke-width="4"/>
<circle cx="411" cy="147.30" r="2.0" fill="#aa28e8"/>
<text transform="translate(417,153.60) scale(1,1.06)" class="lg">pH = 8.2</text>
</svg>
</body></html>
